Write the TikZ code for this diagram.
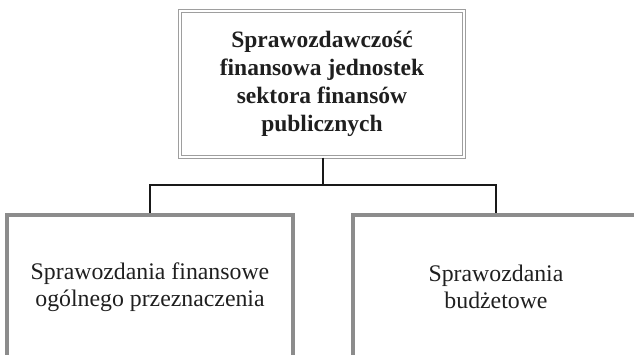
\documentclass[tikz,border=0pt]{standalone}
\usepackage{fontspec}
\setmainfont{Liberation Serif}
\begin{document}
\begin{tikzpicture}[x=1pt,y=-1pt,
  topbox/.style={draw=black!38, line width=1pt, double=white, double distance=2pt,
    minimum width=284pt, minimum height=146pt, align=center, inner sep=0pt,
    font=\fontsize{23.5}{28}\selectfont\bfseries, text=black!88},
  lowbox/.style={draw=black!45, line width=4pt, minimum width=286pt, minimum height=144pt,
    align=center, inner sep=0pt, font=\fontsize{23.8}{27}\selectfont, text=black!88},
  conn/.style={draw=black!90, line width=2.5pt}]
\useasboundingbox (0,0) rectangle (634,354);
\clip (0,0) rectangle (634,354);
\node[topbox] (top) at (322,84) {Sprawozdawczość\\finansowa jednostek\\sektora finansów\\publicznych};
\node[lowbox] (left) at (150,287) {Sprawozdania finansowe\\ogólnego przeznaczenia};
\node[lowbox] (right) at (496,287) {Sprawozdania\\budżetowe};
\coordinate (j) at (323,185);
\draw[conn] (top.south -| j) -- (j);
\draw[conn] (left.north) |- (j) -| (right.north);
\end{tikzpicture}
\end{document}
